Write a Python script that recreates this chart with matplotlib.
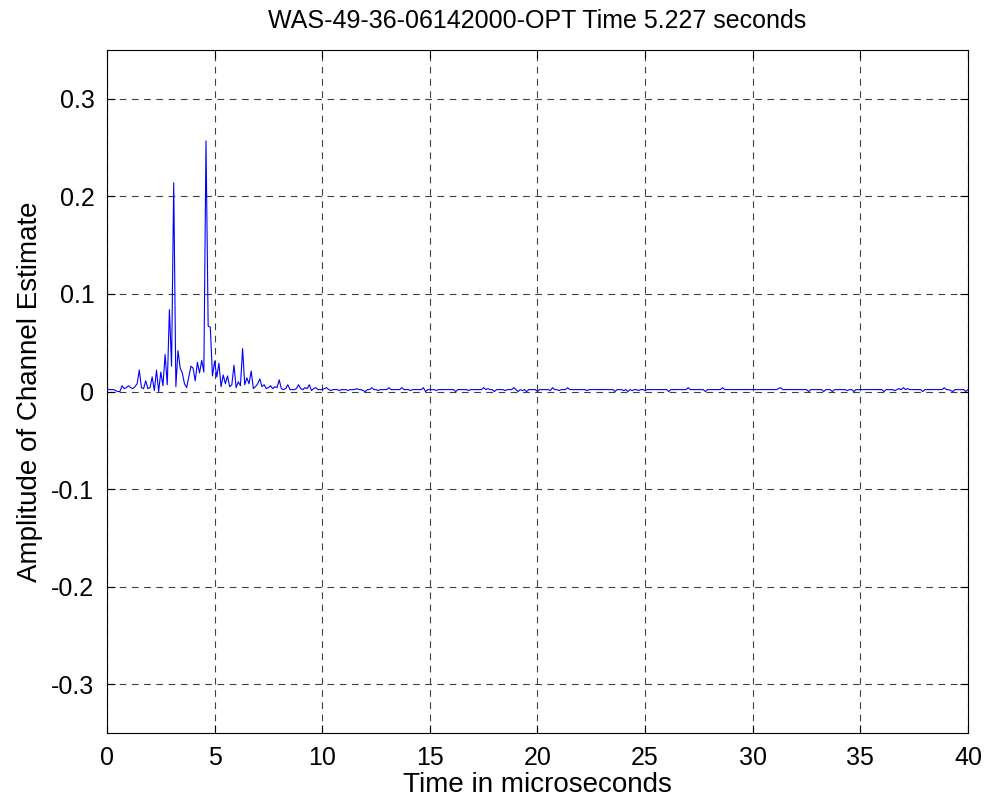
import numpy as np
import matplotlib.pyplot as plt

plt.rcParams['font.family'] = ['Liberation Sans', 'DejaVu Sans']
plt.rcParams['axes.unicode_minus'] = False

# channel estimate amplitude, one sample every 0.1 microseconds
sample_spacing_us = 0.1
amp_first_10us = [
    0.003, 0.002, 0.002, 0.002, 0.001, 0.000, 0.000, 0.006, 0.003, 0.004,
    0.006, 0.004, 0.003, 0.005, 0.008, 0.022, 0.004, 0.003, 0.011, 0.003,
    0.004, 0.015, 0.001, 0.022, 0.000, 0.020, 0.006, 0.038, 0.007, 0.084,
    0.026, 0.214, 0.005, 0.042, 0.024, 0.019, 0.008, 0.004, 0.015, 0.026,
    0.024, 0.011, 0.030, 0.019, 0.032, 0.020, 0.257, 0.067, 0.066, 0.016,
    0.031, 0.015, 0.029, 0.005, 0.017, 0.008, 0.016, 0.005, 0.007, 0.027,
    0.004, 0.010, 0.006, 0.044, 0.007, 0.014, 0.008, 0.021, 0.003, 0.005,
    0.008, 0.013, 0.005, 0.007, 0.003, 0.004, 0.006, 0.003, 0.005, 0.004,
    0.012, 0.003, 0.002, 0.003, 0.007, 0.002, 0.002, 0.002, 0.003, 0.007,
    0.003, 0.002, 0.004, 0.003, 0.007, 0.001, 0.003, 0.004, 0.002, 0.002,
]
amp_tail = [
    0.002, 0.003, 0.004, 0.002, 0.001, 0.002, 0.002, 0.002, 0.001, 0.002,
    0.002, 0.002, 0.001, 0.002, 0.002, 0.002, 0.003, 0.002, 0.002, 0.001,
    0.000, 0.002, 0.002, 0.004, 0.002, 0.002, 0.001, 0.002, 0.002, 0.002,
    0.002, 0.004, 0.002, 0.002, 0.002, 0.002, 0.002, 0.004, 0.002, 0.002,
    0.002, 0.001, 0.002, 0.002, 0.002, 0.002, 0.002, 0.004, 0.000, 0.002,
    0.002, 0.002, 0.002, 0.001, 0.002, 0.002, 0.002, 0.002, 0.002, 0.002,
    0.002, 0.002, 0.000, 0.002, 0.002, 0.002, 0.002, 0.002, 0.001, 0.002,
    0.002, 0.002, 0.002, 0.002, 0.002, 0.004, 0.002, 0.003, 0.002, 0.002,
    0.000, 0.002, 0.002, 0.002, 0.002, 0.001, 0.002, 0.002, 0.002, 0.004,
    0.002, 0.000, 0.002, 0.001, 0.002, 0.000, 0.002, 0.002, 0.002, 0.002,
    0.000, 0.002, 0.002, 0.002, 0.002, 0.002, 0.001, 0.004, 0.002, 0.002,
    0.001, 0.002, 0.002, 0.002, 0.004, 0.002, 0.002, 0.002, 0.002, 0.002,
    0.002, 0.002, 0.002, 0.001, 0.002, 0.002, 0.002, 0.002, 0.002, 0.002,
    0.002, 0.002, 0.002, 0.002, 0.002, 0.002, 0.000, 0.002, 0.002, 0.002,
    0.001, 0.002, 0.000, 0.002, 0.001, 0.002, 0.002, 0.001, 0.002, 0.002,
    0.001, 0.002, 0.002, 0.002, 0.002, 0.002, 0.002, 0.002, 0.002, 0.002,
    0.002, 0.000, 0.002, 0.002, 0.002, 0.002, 0.002, 0.002, 0.002, 0.002,
    0.004, 0.002, 0.002, 0.002, 0.002, 0.002, 0.002, 0.002, 0.000, 0.002,
    0.002, 0.002, 0.002, 0.002, 0.002, 0.002, 0.004, 0.002, 0.002, 0.002,
    0.002, 0.002, 0.002, 0.002, 0.002, 0.002, 0.002, 0.002, 0.002, 0.002,
    0.002, 0.002, 0.002, 0.002, 0.002, 0.002, 0.002, 0.002, 0.002, 0.002,
    0.002, 0.002, 0.003, 0.004, 0.002, 0.002, 0.002, 0.002, 0.002, 0.002,
    0.002, 0.002, 0.002, 0.002, 0.002, 0.002, 0.000, 0.002, 0.002, 0.002,
    0.002, 0.002, 0.002, 0.000, 0.002, 0.002, 0.002, 0.000, 0.002, 0.002,
    0.002, 0.002, 0.002, 0.002, 0.001, 0.002, 0.002, 0.000, 0.002, 0.002,
    0.002, 0.002, 0.002, 0.002, 0.002, 0.002, 0.002, 0.002, 0.002, 0.002,
    0.002, 0.000, 0.002, 0.002, 0.002, 0.002, 0.001, 0.002, 0.003, 0.002,
    0.004, 0.002, 0.003, 0.002, 0.002, 0.002, 0.002, 0.002, 0.002, 0.000,
    0.002, 0.002, 0.002, 0.002, 0.002, 0.002, 0.002, 0.002, 0.002, 0.004,
    0.002, 0.002, 0.001, 0.000, 0.002, 0.002, 0.002, 0.002, 0.002, 0.000,
    0.002,
]
amplitude = np.array(amp_first_10us + amp_tail)
time_us = np.arange(len(amplitude)) * sample_spacing_us

x_ticks = [0, 5, 10, 15, 20, 25, 30, 35, 40]
y_ticks = [-0.3, -0.2, -0.1, 0, 0.1, 0.2, 0.3]
y_tick_labels = ['-0.3', '-0.2', '-0.1', '0', '0.1', '0.2', '0.3']

fig = plt.figure(figsize=(9.87, 8.08), dpi=100)
ax = fig.add_axes([0.1084, 0.0928, 0.8723, 0.8452])

ax.plot(time_us, amplitude, color='#0000ff', linewidth=0.8)

ax.set_xlim(0, 40)
ax.set_ylim(-0.35, 0.35)
ax.set_xticks(x_ticks)
ax.set_yticks(y_ticks)
ax.set_yticklabels(y_tick_labels)
ax.tick_params(direction='in', top=True, right=True, labelsize=18, length=6)
ax.tick_params(axis='x', pad=9)
ax.tick_params(axis='y', pad=9)

ax.grid(True, color='0.25', linestyle=(0, (6, 5)), linewidth=0.8)

ax.set_title('WAS-49-36-06142000-OPT Time 5.227 seconds', fontsize=18, pad=16)
ax.set_xlabel('Time in microseconds', fontsize=20, labelpad=2)
ax.set_ylabel('Amplitude of Channel Estimate', fontsize=20, labelpad=6)

plt.savefig('out.png')
